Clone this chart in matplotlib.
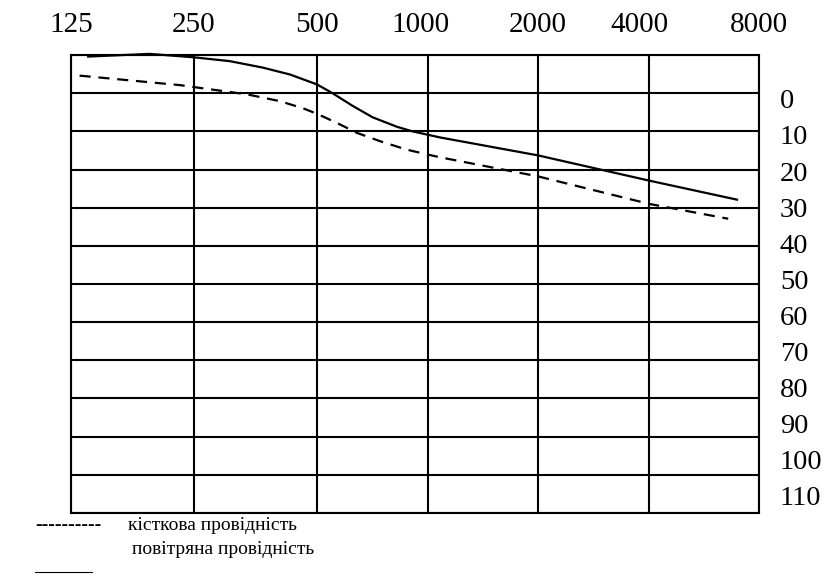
import numpy as np
import matplotlib
matplotlib.use("Agg")
import matplotlib.pyplot as plt

# Audiogram: frequencies (Hz) on top, hearing level (dB) on the right
freqs = ["125", "250", "500", "1000", "2000", "4000", "8000"]
levels = [str(v) for v in range(0, 111, 10)]

# curves; x in octaves above 125 Hz, y in dB
air_oct = [0.14, 0.64, 1.0, 1.29, 1.56, 1.78, 2.0, 2.14, 2.32, 2.5, 2.72, 2.86,
           3.0, 3.11, 4.0, 5.0, 5.8]
air_db = [-9.6, -10.3, -9.4, -8.4, -6.7, -4.9, -2.3, 0.0, 3.3, 6.3, 8.8, 10.0,
          10.9, 11.6, 16.3, 22.9, 27.9]

bone_oct = [0.07, 0.89, 1.0, 1.43, 1.70, 1.89, 2.0, 2.18, 2.36, 2.57, 2.81,
            3.0, 3.11, 4.0, 5.0, 5.72]
bone_db = [-4.6, -2.1, -1.6, 0.3, 2.1, 4.0, 5.4, 7.8, 10.4, 12.6, 14.8,
           16.1, 16.8, 21.8, 29.0, 32.9]

# column widths in the drawing are not equal (first two are wider)
oct_idx = np.arange(7)
col_px = np.array([0, 123, 246, 357, 467, 578, 688])

def fwd(x):
    return np.interp(x, oct_idx, col_px)

def inv(x):
    return np.interp(x, col_px, oct_idx)

serif = ["Liberation Serif", "DejaVu Serif"]
lw = 1.5

fig = plt.figure(figsize=(8.33, 5.78), dpi=100)
ax = fig.add_axes([0.0852, 0.1125, 0.826, 0.7923])
ax.set_xscale("function", functions=(fwd, inv))
ax.set_xlim(0, 6)
ax.set_ylim(110, -10)
ax.xaxis.remove_overlapping_locs = False
ax.yaxis.remove_overlapping_locs = False

# grid
ax.set_xticks(oct_idx)
ax.set_yticks(np.arange(-10, 111, 10))
ax.tick_params(which="major", length=0, labelleft=False, labelbottom=False)
ax.grid(True, color="black", linewidth=lw)
for s in ax.spines.values():
    s.set_linewidth(lw)

# frequency labels on top (a couple sit a bit left of their lines)
lab_x = [0, 1, 2, 2.93, 4, 4.91, 6]
ax.set_xticks(lab_x, minor=True)
ax.set_xticklabels(freqs, minor=True, family=serif, fontsize=21)
ax.tick_params(axis="x", which="minor", length=0, top=True, bottom=False,
               labeltop=True, labelbottom=False, pad=12)

# level labels on the right, they drift slightly against the grid rows
lab_y = np.linspace(1.5, 105.5, len(levels))
ax.set_yticks(lab_y, minor=True)
ax.set_yticklabels(levels, minor=True, family=serif, fontsize=20.5)
ax.tick_params(axis="y", which="minor", length=0, left=False, right=True,
               labelleft=False, labelright=True, pad=15)

ax.plot(air_oct, air_db, color="black", linewidth=1.6, clip_on=False,
        solid_joinstyle="round")
ax.plot(bone_oct, bone_db, color="black", linewidth=1.6, linestyle=(0, (5, 3.5)),
        clip_on=False)

# legend drawn as text under the chart
fig.text(35 / 833, 1 - 526 / 578, "----------", family=serif, fontsize=14,
         fontweight="bold", va="center")
fig.text(128 / 833, 1 - 526 / 578, "кісткова провідність", family=serif,
         fontsize=14, va="center")
fig.text(132 / 833, 1 - 549 / 578, "повітряна провідність", family=serif,
         fontsize=14, va="center")
fig.add_artist(plt.Line2D([35 / 833, 92 / 833], [1 - 572 / 578, 1 - 572 / 578],
                          color="black", linewidth=0.8))

fig.savefig("out.png", dpi=100)
